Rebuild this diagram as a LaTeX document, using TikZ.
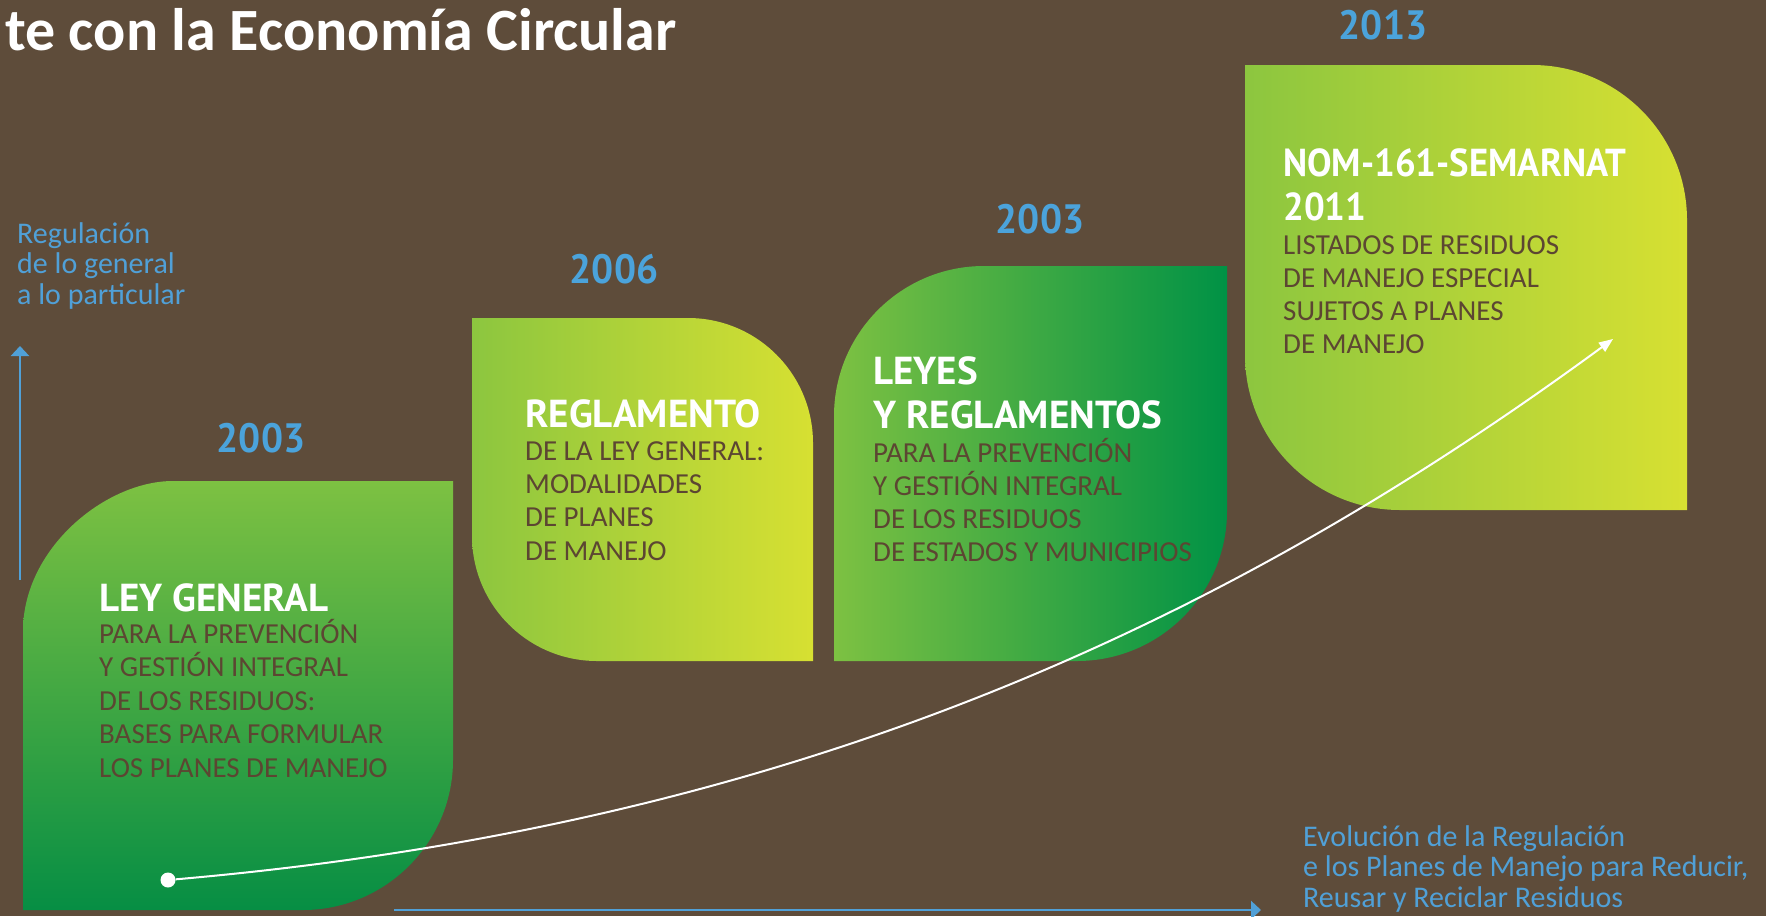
\documentclass[tikz,border=0pt]{standalone}
\usepackage{fontspec}
\setmainfont{Carlito}
\newfontfamily\hdrfont{PT Sans}
\newfontfamily\hdrnarrow[FakeStretch=0.94]{PT Sans}
\newfontfamily\yearfont[FakeStretch=0.95]{PT Sans}
\usetikzlibrary{arrows.meta}
\definecolor{bg}{RGB}{94,76,58}
\definecolor{yearblue}{RGB}{75,163,219}
\definecolor{noteblue}{RGB}{80,160,215}
\definecolor{bodybrown}{RGB}{92,70,50}
\definecolor{gOneTop}{RGB}{125,193,66}
\definecolor{gOneBot}{RGB}{6,142,68}
\definecolor{gLime}{RGB}{140,198,63}
\definecolor{gYel}{RGB}{215,224,50}
\definecolor{gDark}{RGB}{0,146,69}
\tikzset{
  hdr/.style={anchor=base west, inner sep=0pt, text=white,
    font=\hdrfont\bfseries\fontsize{39}{44}\selectfont},
  bodytxt/.style={anchor=base west, inner sep=0pt, text=bodybrown,
    font=\fontsize{29}{33.5}\selectfont},
  yeartxt/.style={anchor=base, inner sep=0pt, text=yearblue,
    font=\yearfont\bfseries\fontsize{41}{44}\selectfont},
  notetxt/.style={anchor=base west, inner sep=0pt, text=noteblue,
    font=\fontsize{30}{31}\selectfont},
  bluearrow/.style={draw=noteblue, line width=2.6pt, -{Triangle[length=10pt,width=18pt]}},
}
\begin{document}
\begin{tikzpicture}[x=1pt,y=-1pt]
\fill[bg] (0,0) rectangle (1766,916);
\useasboundingbox (0,0) rectangle (1766,916);

% leaf boxes
\shade[top color=gOneTop, bottom color=gOneBot]
  (23,910) -- (23,631) .. controls (23,548.2) and (105.8,481) .. (173,481)
  -- (453,481) -- (453,760) .. controls (453,842.8) and (385.2,910) .. (303,910) -- cycle;
\shade[left color=gLime, right color=gYel]
  (472,318) -- (688,318) .. controls (757,318) and (813,374) .. (813,443)
  -- (813,661) -- (597,661) .. controls (528,661) and (472,605) .. (472,536) -- cycle;
\shade[left color=gOneTop, right color=gDark]
  (834,661) -- (834,416) .. controls (834,333.2) and (901.2,266) .. (984,266)
  -- (1227,266) -- (1227,511) .. controls (1227,593.8) and (1159.8,661) .. (1077,661) -- cycle;
\shade[left color=gLime, right color=gYel]
  (1245,65) -- (1532,65) .. controls (1617.6,65) and (1687,134.4) .. (1687,220)
  -- (1687,510) -- (1400,510) .. controls (1314.4,510) and (1245,440.6) .. (1245,355) -- cycle;

% title
\node[anchor=base west, inner sep=0pt, text=white, font=\bfseries\fontsize{60}{64}\selectfont] (title) at (5,50) {te con la Economía Circular};

% years
\node[yeartxt] (y1) at (261,452) {2003};
\node[yeartxt] (y2) at (614,283) {2006};
\node[yeartxt] (y3) at (1040,233) {2003};
\node[yeartxt] (y4) at (1383,39) {2013};

% box 1 texts
\node[hdr] (h1) at (99,611) {LEY GENERAL};
\foreach \t [count=\i] in {PARA LA PREVENCIÓN, Y GESTIÓN INTEGRAL, DE LOS RESIDUOS:, BASES PARA FORMULAR, LOS PLANES DE MANEJO}
  \node[bodytxt] (b1-\i) at (99,{643+33.6*(\i-1)}) {\t};
% box 2 texts
\node[hdr] (h2) at (525,427) {REGLAMENTO};
\foreach \t [count=\i] in {DE LA LEY GENERAL:, MODALIDADES, DE PLANES, DE MANEJO}
  \node[bodytxt] (b2-\i) at (525,{460+33.4*(\i-1)}) {\t};
% box 3 texts
\node[hdr] (h3-1) at (873,384) {LEYES};
\node[hdr] (h3-2) at (873,428) {Y REGLAMENTOS};
\foreach \t [count=\i] in {PARA LA PREVENCIÓN, Y GESTIÓN INTEGRAL, DE LOS RESIDUOS, DE ESTADOS Y MUNICIPIOS}
  \node[bodytxt] (b3-\i) at (873,{462+33*(\i-1)}) {\t};
% box 4 texts
\node[hdr, font=\hdrnarrow\bfseries\fontsize{39}{44}\selectfont] (h4-1) at (1283,176) {NOM-161-SEMARNAT};
\node[hdr, font=\hdrnarrow\bfseries\fontsize{39}{44}\selectfont] (h4-2) at (1283,220) {2011};
\foreach \t [count=\i] in {LISTADOS DE RESIDUOS, DE MANEJO ESPECIAL, SUJETOS A PLANES, DE MANEJO}
  \node[bodytxt] (b4-\i) at (1283,{254+33.2*(\i-1)}) {\t};

% axis notes
\foreach \t [count=\i] in {Regulación, de lo general, a lo particular}
  \node[notetxt] (n1-\i) at (17,{243+30.5*(\i-1)}) {\t};
\foreach \t [count=\i] in {Evolución de la Regulación, {e los Planes de Manejo para Reducir,}, Reusar y Reciclar Residuos}
  \node[notetxt] (n2-\i) at (1303,{846+30.5*(\i-1)}) {\t};

% axes
\coordinate (vA) at (20,580);
\coordinate (vB) at (20,346);
\coordinate (hA) at (394,910);
\coordinate (hB) at (1261,910);
\draw[bluearrow] (vA) -- (vB);
\draw[bluearrow] (hA) -- (hB);

% evolution curve
\node[circle, fill=white, inner sep=0pt, minimum size=15pt] (start) at (168,880) {};
\coordinate (cEnd) at (1613,339);
\draw[white, line width=2pt, -{Triangle[length=14pt,width=11pt]}]
  (start) .. controls (800,825) and (1230,620) .. (cEnd);
\end{tikzpicture}
\end{document}
